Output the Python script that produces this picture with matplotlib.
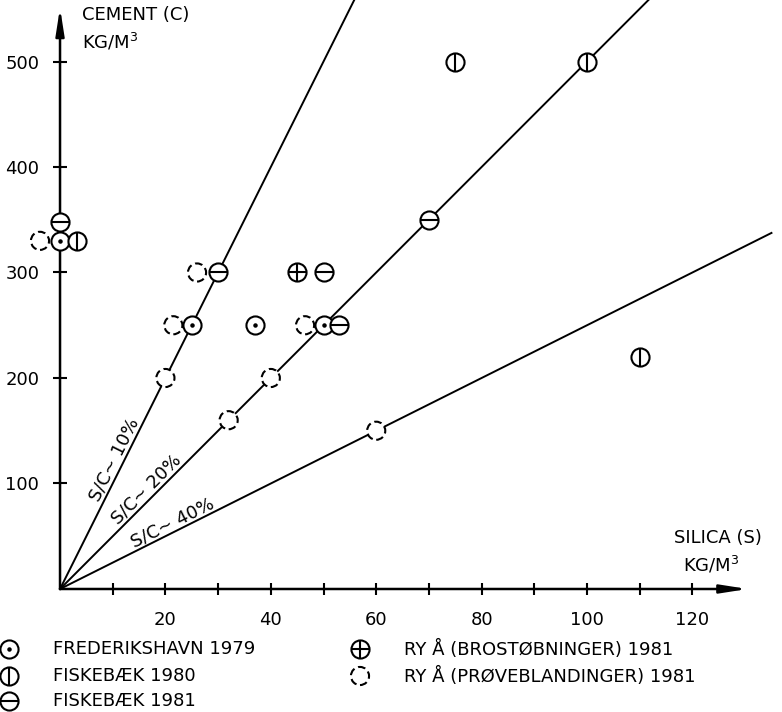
import numpy as np
import matplotlib
matplotlib.use("Agg")
import matplotlib.pyplot as plt

# silica S (kg/m3) vs cement C (kg/m3)
fred_s = [0, 25, 37, 50]
fred_c = [330, 250, 250, 250]
fisk80_s = [3.2, 75, 100, 110]
fisk80_c = [330, 500, 500, 220]
fisk81_s = [0, 30, 50, 53, 70]
fisk81_c = [348, 300, 300, 250, 350]
bro_s = [45]
bro_c = [300]
prove_s = [-3.8, 21.5, 26, 20, 32, 40, 46.5, 60]
prove_c = [330, 250, 300, 200, 160, 200, 250, 150]

ratios = [0.10, 0.20, 0.40]
ratio_labels = ["S/C~ 10%", "S/C~ 20%", "S/C~ 40%"]
line_end_s = [56, 112, 135]
label_s = [11.9, 17.6, 22.1]

x_ticks = np.arange(10, 121, 10)
x_ticklabels = ["" if t % 20 else str(t) for t in x_ticks]
y_ticks = [100, 200, 300, 400, 500]

legend_names = ["FREDERIKSHAVN 1979", "FISKEBÆK 1980", "FISKEBÆK 1981",
                "RY Å (BROSTØBNINGER) 1981", "RY Å (PRØVEBLANDINGER) 1981"]

plt.rcParams['font.family'] = ['DejaVu Sans']
FS = 13
W, H = 782, 712

fig = plt.figure(figsize=(W / 100, H / 100), dpi=100)
ax = fig.add_axes([0, 0, 1, 1])
ax.set_xlim(-11.39, 137.0)
ax.set_ylim(-116.6, 558.3)
for sp in ax.spines.values():
    sp.set_visible(False)
ax.spines['left'].set_position(('data', 0))
ax.spines['bottom'].set_position(('data', 0))

ax.set_xticks(x_ticks)
ax.set_xticklabels(x_ticklabels, fontsize=FS)
ax.set_yticks(y_ticks)
ax.set_yticklabels([str(t) for t in y_ticks], fontsize=FS)
ax.tick_params(axis='x', direction='inout', length=8, width=1.5, pad=12)
ax.tick_params(axis='y', direction='inout', length=10, width=1.5, pad=10)

# axes as arrows
arrow = dict(arrowstyle='-|>,head_length=1.6,head_width=0.25', lw=1.8,
             color='black', shrinkA=0, shrinkB=0)
ax.annotate('', xy=(130.5, 0), xytext=(0, 0), arrowprops=arrow)
ax.annotate('', xy=(0, 551), xytext=(0, 0), arrowprops=arrow)

# S/C lines
for r, lab, se, ls in zip(ratios, ratio_labels, line_end_s, label_s):
    ax.plot([0, se], [0, se / r], color='black', lw=1.4, zorder=2, clip_on=False)
    ang = np.degrees(np.arctan2(1 / r, 1))
    rot = ax.transData.transform_angles(np.array([ang]),
                                        np.array([[ls, ls / r]]))[0]
    ax.text(ls, ls / r, lab, rotation=rot, rotation_mode='anchor',
            ha='center', va='bottom', fontsize=FS)

MS = 170
LW = 1.5


def marks(xs, ys, kind, tr=None):
    tr = ax.transData if tr is None else tr
    if kind == 'dashed':
        ax.scatter(xs, ys, s=MS, marker='o', facecolors='white',
                   edgecolors='black', linewidths=LW,
                   linestyle=(0, (3.6, 1.9)), zorder=3, transform=tr,
                   clip_on=False)
        return
    ax.scatter(xs, ys, s=MS, marker='o', facecolors='white',
               edgecolors='black', linewidths=LW, zorder=4, transform=tr,
               clip_on=False)
    inner = {'dot': '.', 'vbar': '|', 'hbar': '_', 'plus': '+'}[kind]
    size = 12 if kind == 'dot' else MS
    ax.scatter(xs, ys, s=size, marker=inner, color='black',
               linewidths=LW, zorder=5, transform=tr, clip_on=False)


marks(prove_s, prove_c, 'dashed')
marks(fred_s, fred_c, 'dot')
marks(fisk80_s, fisk80_c, 'vbar')
marks(fisk81_s, fisk81_c, 'hbar')
marks(bro_s, bro_c, 'plus')


# axis titles, placed in pixels from the top-left corner
def fx(x):
    return x / W


def fy(y):
    return 1 - y / H


fig.text(fx(82), fy(15), "CEMENT (C)", fontsize=FS, va='center', ha='left')
fig.text(fx(82), fy(42), "KG/M$^3$", fontsize=FS, va='center', ha='left')
fig.text(fx(674), fy(538), "SILICA (S)", fontsize=FS, va='center', ha='left')
fig.text(fx(683), fy(565), "KG/M$^3$", fontsize=FS, va='center', ha='left')

# legend
leg_kinds = ['dot', 'vbar', 'hbar', 'plus', 'dashed']
leg_x = [9, 9, 9, 360, 360]
leg_y = [649, 676, 701, 649, 676]
for k, n, lx, ly in zip(leg_kinds, legend_names, leg_x, leg_y):
    marks([fx(lx)], [fy(ly)], k, fig.transFigure)
    fig.text(fx(lx + 44), fy(ly), n, fontsize=FS, va='center', ha='left')

fig.savefig("out.png", dpi=100)
